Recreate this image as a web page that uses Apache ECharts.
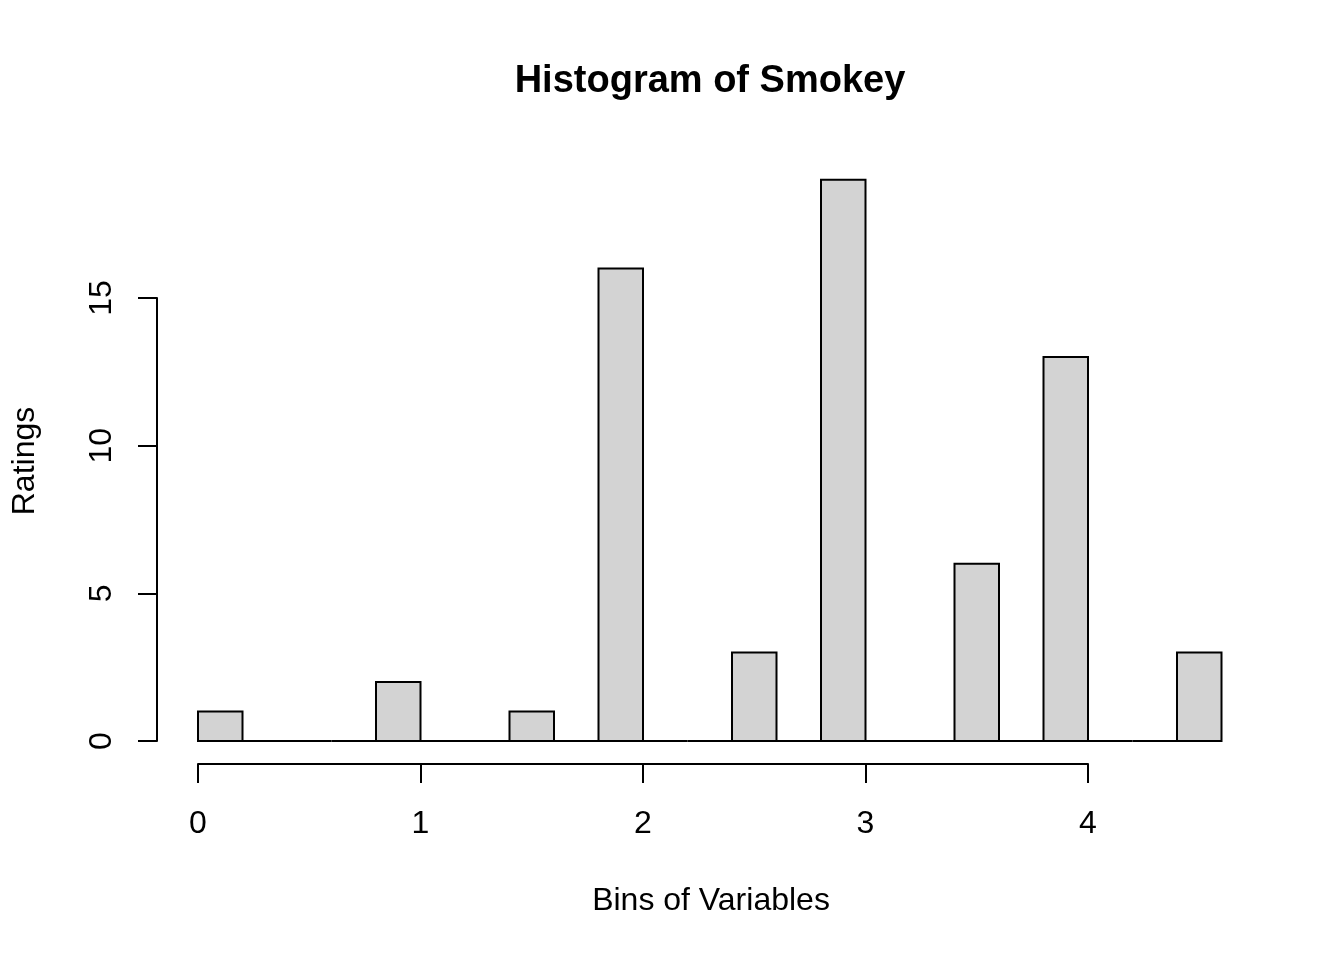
<!DOCTYPE html>
<html>
<head>
<meta charset="utf-8">
<title>Histogram of Smokey</title>
<script src="https://cdn.jsdelivr.net/npm/echarts@6/dist/echarts.min.js"></script>
<style>
  html, body { margin: 0; padding: 0; background: #fff; }
  #chart { width: 1344px; height: 960px; }
</style>
</head>
<body>
<div id="chart"></div>
<script>
// histogram bin edges (width 0.2) and counts per bin
const binEdges = [0, 0.2, 0.4, 0.6, 0.8, 1.0, 1.2, 1.4, 1.6, 1.8, 2.0, 2.2, 2.4,
  2.6, 2.8, 3.0, 3.2, 3.4, 3.6, 3.8, 4.0, 4.2, 4.4, 4.6];
const binCounts = [1, 0, 0, 0, 2, 0, 0, 1, 0, 16, 0, 0, 3, 0, 19, 0, 0, 6, 0, 13, 0, 0, 3];
const xTicks = [0, 1, 2, 3, 4];
const yTicks = [0, 5, 10, 15];

const bins = binCounts.map(function (count, i) {
  return [binEdges[i], binEdges[i + 1], count];
});

const FONT = "'Liberation Sans', Arial, sans-serif";

const chart = echarts.init(document.getElementById("chart"));

chart.setOption({
  backgroundColor: "#ffffff",
  animation: false,
  title: {
    text: "Histogram of Smokey",
    left: 705,
    top: 58,
    textAlign: "center",
    textStyle: {
      fontFamily: FONT,
      fontWeight: "bold",
      fontSize: 38,
      color: "#000",
    },
  },
  // grid spans x 0..4 and y 0..15 so that axis lines match R's extent
  grid: {
    left: 198,
    right: 256,
    top: 298,
    bottom: 219,
  },
  xAxis: {
    type: "value",
    min: 0,
    max: 4,
    interval: 1,
    offset: 23,
    axisLine: { show: true, onZero: false, lineStyle: { color: "#000", width: 2 } },
    axisTick: { show: true, length: 19, lineStyle: { color: "#000", width: 2 } },
    axisLabel: {
      color: "#000",
      fontFamily: FONT,
      fontSize: 32,
      margin: 44,
      formatter: function (v) { return xTicks.indexOf(v) >= 0 ? String(v) : ""; },
    },
    splitLine: { show: false },
  },
  yAxis: {
    type: "value",
    min: 0,
    max: 15,
    interval: 5,
    offset: 41,
    axisLine: { show: true, onZero: false, lineStyle: { color: "#000", width: 2 } },
    axisTick: { show: true, length: 19, lineStyle: { color: "#000", width: 2 } },
    axisLabel: {
      color: "#000",
      fontFamily: FONT,
      fontSize: 32,
      rotate: 90,
      margin: 39,
      formatter: function (v) { return yTicks.indexOf(v) >= 0 ? String(v) : ""; },
    },
    splitLine: { show: false },
  },
  graphic: [
    {
      type: "text",
      x: 711,
      y: 901,
      style: {
        text: "Bins of Variables",
        fontFamily: FONT,
        fontSize: 32,
        fill: "#000",
        align: "center",
        verticalAlign: "middle",
      },
    },
    {
      type: "text",
      x: 25,
      y: 461,
      rotation: Math.PI / 2,
      style: {
        text: "Ratings",
        fontFamily: FONT,
        fontSize: 32,
        fill: "#000",
        align: "center",
        verticalAlign: "middle",
      },
    },
  ],
  series: [
    {
      type: "custom",
      clip: false,
      data: bins,
      renderItem: function (params, api) {
        const topLeft = api.coord([api.value(0), api.value(2)]);
        const bottomRight = api.coord([api.value(1), 0]);
        return {
          type: "rect",
          shape: {
            x: topLeft[0],
            y: topLeft[1],
            width: bottomRight[0] - topLeft[0],
            height: bottomRight[1] - topLeft[1],
          },
          style: {
            fill: "#D3D3D3",
            stroke: "#000",
            lineWidth: 2,
          },
        };
      },
    },
  ],
});
</script>
</body>
</html>
